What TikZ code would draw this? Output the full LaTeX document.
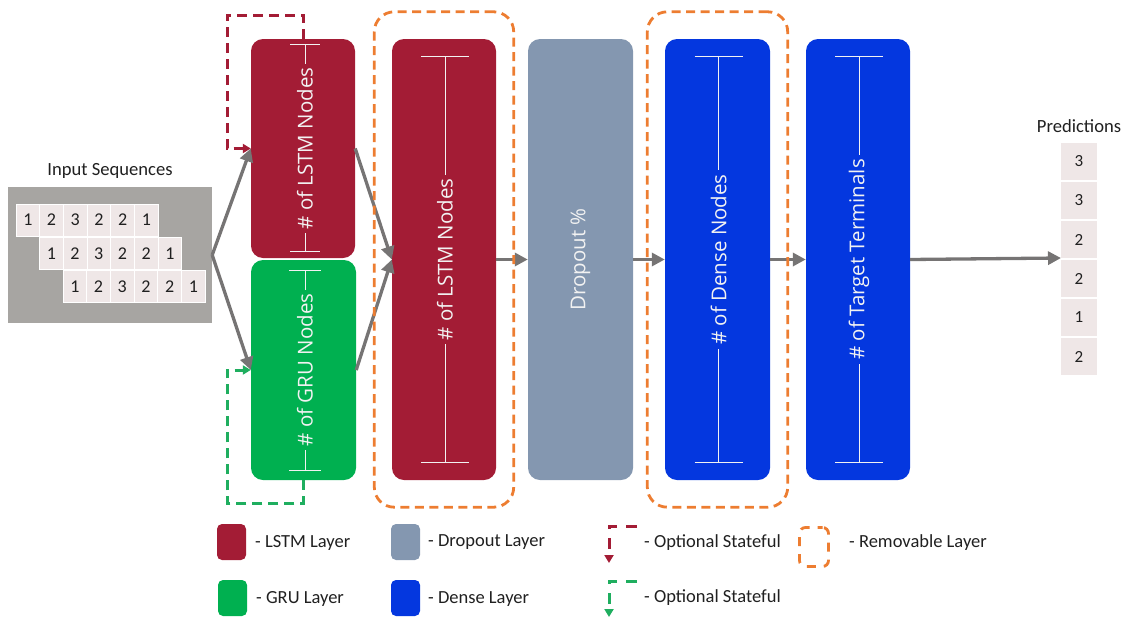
\documentclass[tikz,border=0pt]{standalone}
\usepackage{fontspec}
\setmainfont{Carlito}
\newfontfamily\boxfont{Open Sans}
\usetikzlibrary{arrows.meta,fit}

\definecolor{lstmred}{HTML}{A31C35}
\definecolor{grugreen}{HTML}{00B050}
\definecolor{dropgray}{HTML}{8497B0}
\definecolor{denseblue}{HTML}{0437DF}
\definecolor{remorange}{HTML}{ED7D31}
\definecolor{arrowgray}{HTML}{767474}
\definecolor{seqbg}{HTML}{A7A5A2}
\definecolor{cellfill}{HTML}{EFE7E7}
\definecolor{labeltext}{HTML}{202020}
\definecolor{stgreen}{HTML}{1FAE5F}
\definecolor{dimwhite}{HTML}{F2F2F2}

\tikzset{
  layer/.style={rounded corners=12pt, minimum width=104pt, inner sep=0pt, draw=none},
  flow/.style={draw=arrowgray, line width=3.3pt, -{Triangle[length=13pt,width=13pt]}},
  dimline/.style={draw=dimwhite, line width=0.9pt},
  dimtext/.style={rotate=90, text=dimwhite, font=\boxfont\fontsize{20.5}{24}\selectfont,
    inner xsep=4pt, inner ysep=1pt},
  seqcell/.style={fill=cellfill, draw=white, line width=0.8pt, minimum width=23.7pt,
    minimum height=32pt, inner sep=0pt, font=\fontsize{18}{20}\selectfont, text=labeltext},
  predcell/.style={fill=cellfill, draw=none, minimum width=36pt, minimum height=37pt,
    inner sep=0pt, font=\fontsize{17}{20}\selectfont, text=labeltext},
  caption/.style={font=\fontsize{18.6}{22}\selectfont, text=labeltext, inner sep=0pt},
  legtext/.style={font=\fontsize{18.5}{22}\selectfont, text=labeltext, inner sep=0pt, anchor=west},
  legbox/.style={rounded corners=5pt, minimum width=29pt, minimum height=36pt, inner sep=0pt},
  removable/.style={draw=remorange, line width=2.8pt, dash pattern=on 9pt off 5.5pt,
    rounded corners=20pt, inner xsep=17.5pt, inner ysep=27pt},
  statered/.style={draw=lstmred, line width=3pt, dash pattern=on 10pt off 6pt,
    -{Triangle[length=8pt,width=9pt]}},
  stategreen/.style={draw=stgreen, line width=3pt, dash pattern=on 10pt off 6pt,
    -{Triangle[length=8pt,width=9pt]}},
}

% dimension bar with centred rotated label: node, top gap, bottom gap, half tick, x offset, text, fill
\newcommand\layerdim[7]{%
  \draw[dimline] ([xshift=#5,yshift=-#2]#1.north) -- ([xshift=#5,yshift=#3]#1.south);
  \draw[dimline] ([xshift=#5-#4,yshift=-#2]#1.north) -- ([xshift=#5+#4,yshift=-#2]#1.north);
  \draw[dimline] ([xshift=#5-#4,yshift=#3]#1.south) -- ([xshift=#5+#4,yshift=#3]#1.south);
  \node[dimtext, fill=#7] at ([xshift=#5]#1.center) {#6};%
}

\begin{document}
\begin{tikzpicture}[x=1pt, y=-1pt]
\useasboundingbox (0,0) rectangle (1124,616);

% ---- input sequences ----
\node[caption] (incap) at (110,171) {Input Sequences};
\node[fill=seqbg, minimum width=204pt, minimum height=136pt, inner sep=0pt] (inbox) at (110,255) {};
\foreach \v [count=\i] in {1,2,3,2,2,1} {
  \node[seqcell] (sa\i) at ({16+23.7*(\i-0.5)},220) {\v};
  \node[seqcell] (sb\i) at ({39.5+23.7*(\i-0.5)},253.5) {\v};
  \node[seqcell] (sc\i) at ({63+23.7*(\i-0.5)},286.5) {\v};
}

% ---- layers ----
\node[layer, fill=lstmred, minimum height=219pt] (lstm1) at (303,148.5) {};
\node[layer, fill=grugreen, minimum height=220pt, minimum width=105pt] (gru) at (303.5,370) {};
\node[layer, fill=lstmred, minimum height=441pt] (lstm2) at (444,259.5) {};
\node[layer, fill=dropgray, minimum height=441pt, minimum width=105pt] (drop) at (580.5,259.5) {};
\node[layer, fill=denseblue, minimum height=441pt, minimum width=105pt] (dense) at (717.5,259.5) {};
\node[layer, fill=denseblue, minimum height=441pt] (target) at (858,259.5) {};

\layerdim{lstm1}{6pt}{7pt}{15pt}{2pt}{\# of LSTM Nodes}{lstmred}
\layerdim{gru}{11pt}{10pt}{16pt}{1.5pt}{\# of GRU Nodes}{grugreen}
\layerdim{lstm2}{18pt}{18pt}{24pt}{1pt}{\# of LSTM Nodes}{lstmred}
\node[dimtext, fill=dropgray] (droplbl) at (drop.center) {Dropout \%};
\layerdim{dense}{18pt}{18pt}{24pt}{1pt}{\# of Dense Nodes}{denseblue}
\layerdim{target}{18pt}{18pt}{24pt}{1pt}{\# of Target Terminals}{denseblue}

% ---- predictions ----
\node[caption] (predcap) at (1079,126) {Predictions};
\foreach \v [count=\i] in {3,3,2,2,1,2} {
  \node[predcell] (p\i) at (1079,{161.5+39*(\i-1)}) {\v};
}
\coordinate (predtip) at (1061,258);

% ---- connectors ----
\draw[flow] (inbox.east) -- (lstm1.west);
\draw[flow] (inbox.east) -- (gru.west);
\draw[flow] (lstm1.east) -- (lstm2.west);
\draw[flow] (gru.east) -- (lstm2.west);
\draw[flow] (lstm2.east) -- (drop.west);
\draw[flow] (drop.east) -- (dense.west);
\draw[flow] (dense.east) -- (target.west);
\draw[flow] (target.east) -- (predtip);

% ---- optional stateful loops ----
\coordinate (sr) at (227,15);
\coordinate (sg) at (227,503);
\draw[statered] (lstm1.north) |- (sr) |- (lstm1.west);
\draw[stategreen] (gru.south) |- (sg) |- (gru.west);

% ---- removable layers ----
\node[removable, fit=(lstm2)] (rem1) {};
\node[removable, fit=(dense)] (rem2) {};

% ---- legend ----
\node[legbox, fill=lstmred] (klstm) at (231.5,542) {};
\node[legtext] at (255,543) {- LSTM Layer};
\node[legbox, fill=grugreen] (kgru) at (232.5,598) {};
\node[legtext] at (256,599) {- GRU Layer};
\node[legbox, fill=dropgray] (kdrop) at (405.5,542) {};
\node[legtext] at (428,542) {- Dropout Layer};
\node[legbox, fill=denseblue] (kdense) at (405.5,598) {};
\node[legtext] at (428,599) {- Dense Layer};

\coordinate (kr0) at (637,526);
\coordinate (kr1) at (609,563);
\draw[statered, dash pattern=on 11pt off 9pt] (kr0) -| (kr1);
\node[legtext] at (644,543) {- Optional Stateful};
\coordinate (kg0) at (637,581);
\coordinate (kg1) at (609,617);
\draw[stategreen, dash pattern=on 11pt off 9pt] (kg0) -| (kg1);
\node[legtext] at (644,598) {- Optional Stateful};

\node[draw=remorange, line width=2.8pt, dash pattern=on 9pt off 8pt, dash phase=4pt,
  rounded corners=6pt, minimum width=29pt, minimum height=39pt, inner sep=0pt] (krem) at (814,547) {};
\node[legtext] at (849,543) {- Removable Layer};
\end{tikzpicture}
\end{document}
